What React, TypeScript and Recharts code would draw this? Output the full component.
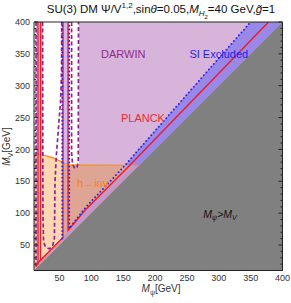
import React from 'react';
import { Area, ComposedChart, Line, ReferenceDot, XAxis, YAxis } from 'recharts';

const FONT = '"Liberation Sans", Arial, Helvetica, sans-serif';

const majorTicks = [50, 100, 150, 200, 250, 300, 350, 400];
const minorTicks = [
  10, 20, 30, 40, 50, 60, 70, 80, 90, 100, 110, 120, 130, 140, 150, 160, 170, 180, 190, 200,
  210, 220, 230, 240, 250, 260, 270, 280, 290, 300, 310, 320, 330, 340, 350, 360, 370, 380, 390, 400,
];

// filled regions: x = M_psi, r = [lower M_V, upper M_V]
const hInvLeftFill = [
  { x: 10, r: [10, 193] },
  { x: 25, r: [10, 191] },
  { x: 40, r: [10, 187] },
  { x: 50, r: [10, 182] },
  { x: 56, r: [10, 179] },
];
const hInvRightFill = [
  { x: 56, r: [10, 179] },
  { x: 58, r: [10, 178] },
  { x: 66, r: [10, 175.5] },
  { x: 175, r: [10, 175] },
];
const leftStripLow = [
  { x: 10, r: [10, 193] },
  { x: 21, r: [10, 192] },
];
const leftStripHigh = [
  { x: 13.2, r: [192, 400] },
  { x: 23.5, r: [191, 400] },
];
const midStrip = [
  { x: 54.3, r: [178, 400] },
  { x: 65.3, r: [175.5, 400] },
];
const darwinFill = [
  { x: 80.5, r: [175, 400] },
  { x: 400, r: [175, 400] },
];
const siBand = [
  { x: 153, r: [175, 175] },
  { x: 175, r: [175, 201] },
  { x: 350, r: [350, 400] },
  { x: 400, r: [400, 400] },
];
const underRelic = [
  { x: 13, r: [13, 16] },
  { x: 17, r: [17, 23] },
  { x: 55.5, r: [55.5, 62] },
  { x: 63.5, r: [63.5, 73] },
  { x: 90, r: [90, 104.5] },
  { x: 158, r: [158, 173] },
  { x: 160, r: [160, 175] },
  { x: 175, r: [175, 175] },
];
const forbidden = [
  { x: 10, r: [10, 10] },
  { x: 400, r: [10, 400] },
];

// contour lines
const hInvLine = [
  { x: 10, y: 193 },
  { x: 25, y: 191 },
  { x: 40, y: 187 },
  { x: 50, y: 182 },
  { x: 58, y: 178 },
  { x: 66, y: 175.5 },
  { x: 175, y: 175 },
];
const planckA = [
  { x: 16.3, y: 400 },
  { x: 16.3, y: 19 },
];
const planckB = [
  { x: 20.3, y: 400 },
  { x: 20.3, y: 26 },
];
const planckLow = [
  { x: 13, y: 16 },
  { x: 17, y: 23 },
  { x: 55.5, y: 62 },
  { x: 55.5, y: 400 },
];
const planckHigh = [
  { x: 63.5, y: 400 },
  { x: 63.5, y: 73 },
  { x: 90, y: 104.5 },
  { x: 158, y: 173 },
  { x: 378, y: 400 },
];
const siLeft = [
  { x: 54.3, y: 400 },
  { x: 54.3, y: 60 },
];
const siRight = [
  { x: 65.3, y: 400 },
  { x: 65.3, y: 76 },
  { x: 90, y: 108 },
  { x: 153, y: 175 },
  { x: 171, y: 196 },
  { x: 350, y: 400 },
];
const darwinA = [
  { x: 13.2, y: 400 },
  { x: 13.2, y: 14 },
];
const darwinB = [
  { x: 23.5, y: 400 },
  { x: 24, y: 100 },
  { x: 25, y: 55 },
  { x: 28, y: 47 },
  { x: 34, y: 44 },
  { x: 39, y: 48 },
  { x: 42, y: 60 },
  { x: 43, y: 150 },
  { x: 45, y: 190 },
  { x: 52, y: 280 },
  { x: 53.3, y: 330 },
  { x: 53.5, y: 400 },
];
const darwinC = [
  { x: 69, y: 400 },
  { x: 69, y: 195 },
  { x: 70.5, y: 177 },
  { x: 74, y: 170 },
  { x: 77.5, y: 172 },
  { x: 79.5, y: 182 },
  { x: 79.8, y: 400 },
];

const plotLabels = [
  { x: 150, y: 350, text: 'DARWIN', color: '#8e2a8e' },
  { x: 300, y: 350, text: 'SI Excluded', color: '#2323e6' },
  { x: 181, y: 249, text: 'PLANCK', color: '#ef2b2b' },
  { x: 102, y: 148, text: 'h\u2192inv', color: '#ff8400' },
];
const kinematicLabel = { x: 302, y: 98 };

const AX = { xAxisId: 'x', yAxisId: 'y' };

const tickMark = (side: 'top' | 'bottom' | 'left' | 'right') => (props: any) => {
  const { x, y, payload } = props;
  const len = payload.value % 50 === 0 ? 4 : 2;
  let x2 = x;
  let y2 = y;
  if (side === 'bottom') y2 = y - len;
  if (side === 'top') y2 = y + len;
  if (side === 'left') x2 = x + len;
  if (side === 'right') x2 = x - len;
  return <line x1={x} y1={y} x2={x2} y2={y2} stroke="#222" strokeWidth={1} />;
};

const textLabel = (text: string, color: string) => (props: any) => {
  const vb = props.viewBox || {};
  const cx = (vb.x || 0) + (vb.width || 0) / 2;
  const cy = (vb.y || 0) + (vb.height || 0) / 2;
  return (
    <text x={cx} y={cy} textAnchor="middle" dominantBaseline="central" fill={color} fontSize={11} fontFamily={FONT}>
      {text}
    </text>
  );
};

const kinematicText = (props: any) => {
  const vb = props.viewBox || {};
  const cx = (vb.x || 0) + (vb.width || 0) / 2;
  const cy = (vb.y || 0) + (vb.height || 0) / 2;
  return (
    <text x={cx} y={cy + 3.5} textAnchor="middle" fill="#111" fontSize={10.5} fontFamily={FONT} fontStyle="italic">
      M<tspan fontSize={7} dy={2.5}>&psi;</tspan>
      <tspan dy={-2.5}>&gt;M</tspan>
      <tspan fontSize={7} dy={2.5}>V</tspan>
    </text>
  );
};

const fill = (data: any[], color: string, key: string) => (
  <Area
    key={key}
    {...AX}
    data={data}
    dataKey="r"
    type="linear"
    stroke="none"
    fill={color}
    fillOpacity={1}
    isAnimationActive={false}
    dot={false}
    activeDot={false}
  />
);

const curve = (data: any[], color: string, key: string, width: number, dash?: string, cap?: 'round' | 'butt') => (
  <Line
    key={key}
    {...AX}
    data={data}
    dataKey="y"
    type="linear"
    stroke={color}
    strokeWidth={width}
    strokeDasharray={dash}
    strokeLinecap={cap || 'butt'}
    dot={false}
    activeDot={false}
    isAnimationActive={false}
  />
);

export default function App() {
  const purple = '#8f2290';
  const blue = '#2424f5';
  const red = '#ec1c24';
  return (
    <div style={{ position: 'absolute', left: 0, top: 0, width: 291, height: 303, background: '#fff', fontFamily: FONT }}>
      <ComposedChart width={291} height={303} margin={{ top: 22, right: 8.5, bottom: 12.5, left: 0 }}>
        {fill(hInvLeftFill, '#fdd7b4', 'f1')}
        {fill(hInvRightFill, '#dea594', 'f2')}
        {fill(leftStripLow, '#f1b7ad', 'f3')}
        {fill(leftStripHigh, '#e2b2d9', 'f4')}
        {fill(midStrip, '#d8b8e2', 'f5')}
        {fill(darwinFill, '#d9b4da', 'f6')}
        {fill(siBand, '#9a88e8', 'f7')}
        {fill(underRelic, '#c698c6', 'f8')}
        {fill(forbidden, '#808080', 'f9')}

        {curve(hInvLine, '#f8941d', 'c1', 1.4)}
        {curve(darwinA, purple, 'c2', 1.7, '4 2.5')}
        {curve(darwinB, purple, 'c3', 1.7, '4 2.5')}
        {curve(darwinC, purple, 'c4', 1.7, '4 2.5')}
        {curve(planckA, red, 'c5', 1.3)}
        {curve(planckB, red, 'c6', 1.3)}
        {curve(planckLow, red, 'c7', 1.4)}
        {curve(planckHigh, red, 'c8', 1.4)}
        {curve(siLeft, blue, 'c9', 2, '0 3.8', 'round')}
        {curve(siRight, blue, 'c10', 2, '0 3.8', 'round')}

        {plotLabels.map((l) => (
          <ReferenceDot key={l.text} {...AX} x={l.x} y={l.y} r={0} fill="none" stroke="none" label={textLabel(l.text, l.color)} />
        ))}
        <ReferenceDot {...AX} x={kinematicLabel.x} y={kinematicLabel.y} r={0} fill="none" stroke="none" label={kinematicText} />

        <XAxis
          xAxisId="x"
          type="number"
          dataKey="x"
          domain={[10, 400]}
          allowDataOverflow
          ticks={majorTicks}
          interval={0}
          tickLine={false}
          tickSize={0}
          tickMargin={4}
          height={20}
          axisLine={{ stroke: '#222' }}
          tick={{ fontSize: 9, fill: '#333', fontFamily: FONT }}
        />
        <XAxis xAxisId="xb" type="number" orientation="bottom" mirror domain={[10, 400]} allowDataOverflow ticks={minorTicks} interval={0} tickLine={false} tickSize={0} tickMargin={0} axisLine={false} tick={tickMark('bottom')} />
        <XAxis xAxisId="xt" type="number" orientation="top" mirror domain={[10, 400]} allowDataOverflow ticks={minorTicks} interval={0} tickLine={false} tickSize={0} tickMargin={0} axisLine={{ stroke: '#222' }} tick={tickMark('top')} />
        <YAxis
          yAxisId="y"
          type="number"
          domain={[10, 400]}
          allowDataOverflow
          ticks={majorTicks}
          interval={0}
          tickLine={false}
          tickSize={0}
          tickMargin={4}
          width={34}
          axisLine={{ stroke: '#222' }}
          tick={{ fontSize: 9, fill: '#333', fontFamily: FONT }}
        />
        <YAxis yAxisId="yl" type="number" orientation="left" mirror domain={[10, 400]} allowDataOverflow ticks={minorTicks} interval={0} tickLine={false} tickSize={0} tickMargin={0} axisLine={false} tick={tickMark('left')} />
        <YAxis yAxisId="yr" type="number" orientation="right" mirror domain={[10, 400]} allowDataOverflow ticks={minorTicks} interval={0} tickLine={false} tickSize={0} tickMargin={0} axisLine={{ stroke: '#222' }} tick={tickMark('right')} />
      </ComposedChart>
      <div
        style={{
          position: 'absolute',
          left: 0,
          width: 322,
          top: 3,
          textAlign: 'center',
          fontSize: 11.5,
          lineHeight: '12px',
          color: '#111',
          whiteSpace: 'nowrap',
          zIndex: 2,
        }}
      >
        SU(3) DM &Psi;/V<sup style={{ fontSize: 8, lineHeight: 0 }}>1,2</sup>,sin<i>&theta;</i>=0.05,<i>M</i>
        <sub style={{ fontSize: 8, lineHeight: 0 }}>
          <i>H</i>
          <sub style={{ fontSize: 6, lineHeight: 0 }}>2</sub>
        </sub>
        =40 GeV,<i>g&#771;</i>=1
      </div>
      <div
        style={{
          position: 'absolute',
          left: 140,
          width: 42,
          top: 283,
          textAlign: 'center',
          fontSize: 10,
          lineHeight: '11px',
          color: '#333',
          whiteSpace: 'nowrap',
          zIndex: 2,
        }}
      >
        <i>M</i>
        <sub style={{ fontSize: 7, lineHeight: 0 }}>&psi;</sub>[GeV]
      </div>
      <div style={{ position: 'absolute', left: 6, top: 147, width: 0, height: 0, zIndex: 2 }}>
        <div
          style={{
            position: 'absolute',
            left: -25,
            top: -6,
            width: 50,
            textAlign: 'center',
            fontSize: 10,
            lineHeight: '11px',
            color: '#333',
            whiteSpace: 'nowrap',
            transform: 'rotate(-90deg)',
          }}
        >
          <i>M</i>
          <sub style={{ fontSize: 7, lineHeight: 0 }}>V</sub>[GeV]
        </div>
      </div>
    </div>
  );
}
